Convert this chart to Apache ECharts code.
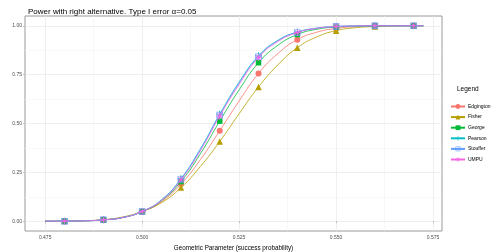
<!DOCTYPE html>
<html><head><meta charset="utf-8">
<script src="https://cdn.jsdelivr.net/npm/echarts@6/dist/echarts.min.js"></script>
<style>html,body{margin:0;padding:0;background:#fff}#c{width:498px;height:252px}</style>
</head><body><div id="c"></div>
<script>
const seriesNames = ['Edgington','Fisher','George','Pearson','Stouffer','UMPU'];
const colors = ['#F8766D','#B79F00','#00BA38','#00BFC4','#619CFF','#F564E3'];
const params = [0.475,0.48,0.485,0.49,0.495,0.5,0.505,0.51,0.515,0.52,0.525,0.53,0.535,0.54,0.545,0.55,0.555,0.56,0.565,0.57,0.5725];
const markerParams = [0.48,0.49,0.5,0.51,0.52,0.53,0.54,0.55,0.56,0.57];
const edgington = [0.0001,0.0005,0.002,0.007,0.019,0.05,0.100,0.190,0.315,0.463,0.615,0.756,0.858,0.929,0.967,0.986,0.995,0.998,0.9995,1,1];
const fisher    = [0.0001,0.0006,0.0025,0.008,0.022,0.05,0.095,0.172,0.280,0.408,0.550,0.687,0.800,0.888,0.943,0.975,0.990,0.996,0.999,1,1];
const george    = [0.0001,0.0005,0.002,0.007,0.019,0.05,0.105,0.203,0.345,0.512,0.672,0.811,0.900,0.955,0.982,0.993,0.998,0.9995,1,1,1];
const pearson   = [0.0001,0.0005,0.002,0.007,0.019,0.05,0.110,0.218,0.370,0.548,0.712,0.846,0.926,0.968,0.988,0.996,0.999,1,1,1,1];
const stouffer  = [0.0001,0.0005,0.002,0.007,0.019,0.05,0.108,0.215,0.366,0.543,0.706,0.841,0.923,0.966,0.987,0.996,0.999,1,1,1,1];
const umpu      = [0.0001,0.0005,0.002,0.007,0.019,0.05,0.107,0.212,0.360,0.538,0.700,0.838,0.920,0.965,0.987,0.996,0.999,1,1,1,1];
const xTicks = [0.475,0.5,0.525,0.55,0.575];
const xMinor = [0.4875,0.5125,0.5375,0.5625];
const yTicks = [0,0.25,0.5,0.75,1];
const yMinor = [0.125,0.375,0.625,0.875];
const values = [edgington,fisher,george,pearson,stouffer,umpu];

const plusPath = 'path://M8.8,0H11.2V8.8H20V11.2H11.2V20H8.8V11.2H0V8.8H8.8Z';
const sqPlusPath = 'path://M0,0H20V2H0Z M0,18H20V20H0Z M0,0H2V20H0Z M18,0H20V20H18Z M9,0H11V20H9Z M0,9H20V11H0Z';
const starPath = 'path://M9,0H11V9H20V11H11V20H9V11H0V9H9Z M2.2,3.6L3.6,2.2L10,8.6L16.4,2.2L17.8,3.6L11.4,10L17.8,16.4L16.4,17.8L10,11.4L3.6,17.8L2.2,16.4L8.6,10Z';
const symbols = ['circle','triangle','rect',plusPath,sqPlusPath,starPath];
const symSizes = [6,6.5,5.5,7,6.5,7];

const isMarker = x => markerParams.some(m => Math.abs(m - x) < 1e-9);
const XMIN = 0.4698, XMAX = 0.5773, YMIN = -0.05, YMAX = 1.05;

const series = seriesNames.map((name, i) => ({
  name, type: 'line', xAxisIndex: 0, yAxisIndex: 0,
  smooth: true,
  symbol: symbols[i], symbolSize: symSizes[i], showSymbol: true,
  lineStyle: { color: colors[i], width: 0.8 },
  itemStyle: { color: colors[i] },
  emphasis: { disabled: true },
  z: 3 + i,
  data: params.map((x, k) => isMarker(x) ? [x, values[i][k]] : { value: [x, values[i][k]], symbol: 'none' })
}));

const chart = echarts.init(document.getElementById('c'), null, { renderer: 'canvas' });
const axisLabelStyle = { color: '#4D4D4D', fontSize: 5, fontFamily: 'Liberation Sans' };
chart.setOption({
  animation: false,
  backgroundColor: '#fff',
  title: [
    { text: 'Power with right alternative. Type I error \u03b1=0.05', left: 23, top: 3,
      textStyle: { fontSize: 8, fontWeight: 'normal', color: '#000', fontFamily: 'Liberation Sans' } },
    { text: 'Legend', left: 452, top: 81,
      textStyle: { fontSize: 6.5, fontWeight: 'normal', color: '#000', fontFamily: 'Liberation Sans' } }
  ],
  grid: { left: 25, right: 56, top: 16, bottom: 21, containLabel: false, outerBoundsMode: 'none',
    show: true, borderColor: '#9a9a9a', borderWidth: 1, backgroundColor: 'transparent' },
  legend: {
    data: seriesNames, orient: 'vertical', left: 445, top: 99,
    itemWidth: 14, itemHeight: 6, itemGap: 5.6,
    textStyle: { fontSize: 5, color: '#000', fontFamily: 'Liberation Sans', padding: [0,0,0,-2] },
    selectedMode: false
  },
  xAxis: [
    { type: 'value', min: XMIN, max: XMAX,
      name: 'Geometric Parameter (success probability)', nameLocation: 'middle', nameGap: 11.5,
      nameTextStyle: { fontSize: 6.3, color: '#000', fontFamily: 'Liberation Sans' },
      axisLine: { show: false },
      axisTick: { show: true, length: 2, customValues: xTicks, lineStyle: { color: '#9a9a9a', width: 0.6 } },
      axisLabel: { ...axisLabelStyle, margin: 4, customValues: xTicks, formatter: v => v.toFixed(3) },
      splitLine: { show: true, customValues: xTicks, lineStyle: { color: '#EBEBEB', width: 0.8 } }, z: 2 },
    { type: 'value', min: XMIN, max: XMAX, show: true,
      axisLine: { show: false }, axisTick: { show: false, customValues: xMinor }, axisLabel: { show: false, customValues: xMinor },
      splitLine: { show: true, customValues: xMinor, lineStyle: { color: '#F4F4F4', width: 0.6 } }, z: 1 }
  ],
  yAxis: [
    { type: 'value', min: YMIN, max: YMAX,
      name: 'Power', nameLocation: 'middle', nameGap: 15,
      nameTextStyle: { fontSize: 6.3, color: '#000', fontFamily: 'Liberation Sans' },
      axisLine: { show: false },
      axisTick: { show: true, length: 2, customValues: yTicks, lineStyle: { color: '#9a9a9a', width: 0.6 } },
      axisLabel: { ...axisLabelStyle, margin: 3, customValues: yTicks, formatter: v => v.toFixed(2) },
      splitLine: { show: true, customValues: yTicks, lineStyle: { color: '#EBEBEB', width: 0.8 } }, z: 2 },
    { type: 'value', min: YMIN, max: YMAX, show: true,
      axisLine: { show: false }, axisTick: { show: false, customValues: yMinor }, axisLabel: { show: false, customValues: yMinor },
      splitLine: { show: true, customValues: yMinor, lineStyle: { color: '#F4F4F4', width: 0.6 } }, z: 1 }
  ],
  series
});
</script></body></html>
